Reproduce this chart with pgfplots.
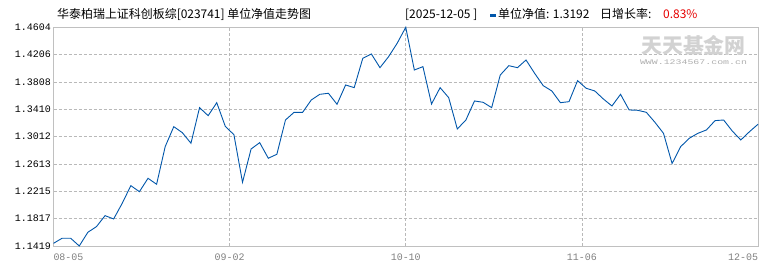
\documentclass[border=0pt]{standalone}
\usepackage{fontspec}
\usepackage{graphicx}
\usepackage{pgfplots}
\pgfplotsset{compat=1.18}
\newfontfamily\cjk{Noto Sans CJK SC}
\newfontfamily\mono{Liberation Mono}
\definecolor{navline}{RGB}{0,86,170}
\definecolor{gridgray}{RGB}{185,185,185}
\definecolor{framegray}{RGB}{192,192,192}
\definecolor{tickgray}{RGB}{128,128,128}
\definecolor{wmbig}{RGB}{210,210,210}
\definecolor{wmsmall}{RGB}{175,175,175}
\definecolor{redrate}{RGB}{230,0,0}
\pgfplotstableread{
i v
0 1.1458
1 1.1532
2 1.1532
3 1.1419
4 1.1619
5 1.1701
6 1.1861
7 1.1813
8 1.2041
9 1.2298
10 1.2210
11 1.2405
12 1.2318
13 1.2866
14 1.3157
15 1.3069
16 1.2915
17 1.3434
18 1.3317
19 1.3506
20 1.3160
21 1.3040
22 1.2347
23 1.2832
24 1.2924
25 1.2697
26 1.2755
27 1.3254
28 1.3366
29 1.3366
30 1.3545
31 1.3628
32 1.3643
33 1.3483
34 1.3764
35 1.3725
36 1.4153
37 1.4215
38 1.4016
39 1.4176
40 1.4371
41 1.4604
42 1.3982
43 1.4031
44 1.3487
45 1.3725
46 1.3579
47 1.3123
48 1.3254
49 1.3531
50 1.3512
51 1.3434
52 1.3909
53 1.4045
54 1.4016
55 1.4128
56 1.3934
57 1.3754
58 1.3677
59 1.3506
60 1.3521
61 1.3827
62 1.3716
63 1.3677
64 1.3560
65 1.3458
66 1.3628
67 1.3400
68 1.3395
69 1.3366
70 1.3221
71 1.3060
72 1.2620
73 1.2866
74 1.2988
75 1.3060
76 1.3109
77 1.3245
78 1.3254
79 1.3094
80 1.2963
81 1.3083
82 1.3192
}\navdata
\begin{document}
\begin{tikzpicture}
\useasboundingbox (0,0) rectangle (770bp,270bp);
\begin{axis}[
  at={(53.5bp,24bp)}, anchor=south west,
  scale only axis, width=704.5bp, height=218.7bp,
  xmin=0, xmax=82, ymin=1.1419, ymax=1.4604,
  xtick={0,20.5,41,61.5,82},
  xticklabels={\makebox[0pt][l]{08-05},09-02,10-10,11-06,\makebox[0pt][r]{12-05}},
  ytick={1.1419,1.1817,1.2215,1.2613,1.3012,1.3410,1.3808,1.4206,1.4604},
  yticklabels={1.1419,1.1817,1.2215,1.2613,1.3012,1.3410,1.3808,1.4206,1.4604},
  major tick length=0pt,
  grid=major,
  grid style={dash pattern=on 3bp off 2bp, color=gridgray, line width=0.7bp},
  axis line style={framegray, line width=1bp},
  yticklabel style={font=\mono\fontsize{10}{10}\selectfont, text=black, inner sep=0pt, xshift=-2.5bp},
  xticklabel style={font=\mono\fontsize{10}{10}\selectfont, text=tickgray, inner sep=0pt, yshift=-7.5bp},
  clip=false,
]
\addplot[navline, line width=0.9bp, mark=none] table[x=i, y=v] {\navdata};
\end{axis}
\node[font=\cjk\bfseries\fontsize{21}{21}\selectfont, text=wmbig, inner sep=0pt] at (693.5bp,225bp) {天天基金网};
\node[font=\mono\fontsize{7}{7}\selectfont, text=wmsmall, inner sep=0pt] at (693.5bp,208bp) {\scalebox{1.42}[1]{WWW.1234567.com.cn}};
\node[anchor=base west, inner sep=0pt, font=\cjk\fontsize{12}{12}\selectfont] at (57bp,251bp) {华泰柏瑞上证科创板综[023741] 单位净值走势图};
\node[anchor=base west, inner sep=0pt, font=\cjk\fontsize{12}{12}\selectfont] at (405bp,251bp) {[2025-12-05\ ]};
\fill[navline] (490bp,253.3bp) rectangle (496bp,255.5bp);
\node[anchor=base west, inner sep=0pt, font=\cjk\fontsize{12}{12}\selectfont] at (498bp,251bp) {单位净值: 1.3192};
\node[anchor=base west, inner sep=0pt, font=\cjk\fontsize{12}{12}\selectfont] at (600bp,251bp) {日增长率:};
\node[anchor=base west, inner sep=0pt, font=\cjk\fontsize{12}{12}\selectfont, text=redrate] at (663bp,251bp) {0.83\%};
\end{tikzpicture}
\end{document}
